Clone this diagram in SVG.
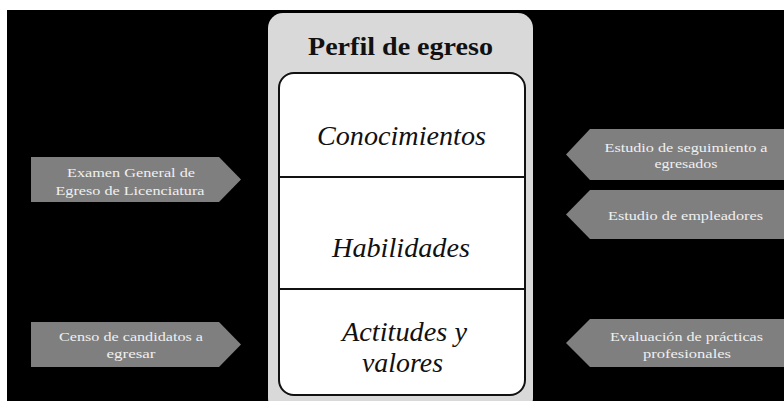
<svg xmlns="http://www.w3.org/2000/svg" width="784" height="401" viewBox="0 0 784 401">
<style>
text{font-family:'Liberation Serif','Times New Roman',Times,serif}
.side{fill:#7f7f7f}
.st{font-size:13px;fill:#f0f0f0;text-anchor:middle}
.big{font-size:27px;font-style:italic;fill:#111;text-anchor:middle}
.title{font-size:25px;font-weight:bold;fill:#111;text-anchor:middle}
.div{stroke:#111;stroke-width:2}
</style>
<rect x="0" y="0" width="784" height="401" fill="#ffffff"/>
<rect x="7" y="10" width="777" height="391" fill="#000000"/>
<g id="perfil">
<rect x="268" y="13" width="265" height="400" rx="15" ry="15" fill="#d9d9d9"/>
<text class="title" x="400.5" y="55" textLength="185" lengthAdjust="spacingAndGlyphs">Perfil de egreso</text>
<rect x="279" y="73" width="246" height="322" rx="15" ry="15" fill="#ffffff" stroke="#111" stroke-width="2"/>
<line class="div" x1="279" y1="177" x2="525" y2="177"/>
<line class="div" x1="279" y1="289" x2="525" y2="289"/>
<text class="big" x="401.5" y="145" textLength="169" lengthAdjust="spacingAndGlyphs">Conocimientos</text>
<text class="big" x="401" y="257" textLength="138" lengthAdjust="spacingAndGlyphs">Habilidades</text>
<text class="big" x="404.5" y="341" textLength="125" lengthAdjust="spacingAndGlyphs">Actitudes y</text>
<text class="big" x="402.5" y="372" textLength="81" lengthAdjust="spacingAndGlyphs">valores</text>
</g>
<g id="connectors"></g>
<g id="examen">
<polygon class="side" points="31,157 219,157 241,179.5 219,202 31,202"/>
<text class="st" x="131" y="177" textLength="128" lengthAdjust="spacingAndGlyphs">Examen General de</text>
<text class="st" x="130" y="195" textLength="149" lengthAdjust="spacingAndGlyphs">Egreso de Licenciatura</text>
</g>
<g id="censo">
<polygon class="side" points="31,322 219,322 241,344.5 219,367 31,367"/>
<text class="st" x="131" y="341" textLength="144" lengthAdjust="spacingAndGlyphs">Censo de candidatos a</text>
<text class="st" x="131" y="358" textLength="49" lengthAdjust="spacingAndGlyphs">egresar</text>
</g>
<g id="seguimiento">
<polygon class="side" points="784,129 590,129 566,154.5 590,180 784,180"/>
<text class="st" x="686" y="152" textLength="163" lengthAdjust="spacingAndGlyphs">Estudio de seguimiento a</text>
<text class="st" x="686" y="168" textLength="63" lengthAdjust="spacingAndGlyphs">egresados</text>
</g>
<g id="empleadores">
<polygon class="side" points="784,190 590,190 566,214.5 590,239 784,239"/>
<text class="st" x="685.5" y="220" textLength="155" lengthAdjust="spacingAndGlyphs">Estudio de empleadores</text>
</g>
<g id="practicas">
<polygon class="side" points="784,319 590,319 566,343 590,367 784,367"/>
<text class="st" x="686.5" y="341" textLength="153" lengthAdjust="spacingAndGlyphs">Evaluación de prácticas</text>
<text class="st" x="687" y="358" textLength="88" lengthAdjust="spacingAndGlyphs">profesionales</text>
</g>
</svg>
